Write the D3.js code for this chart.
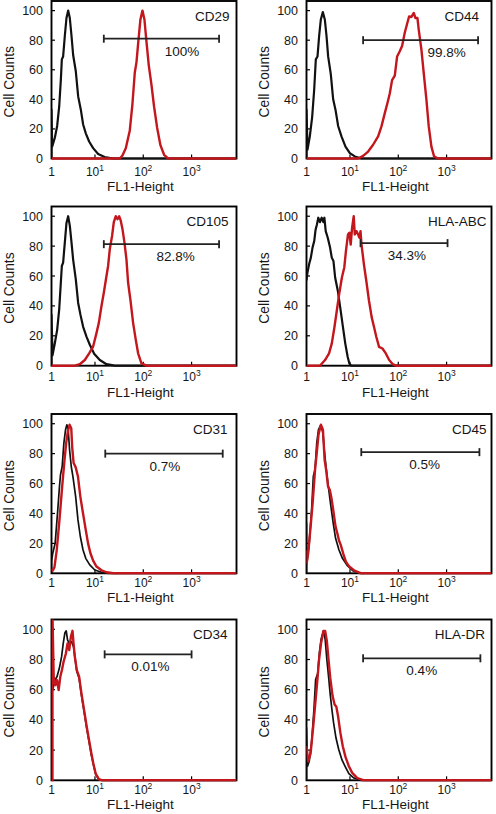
<!DOCTYPE html>
<html><head><meta charset="utf-8">
<script src="https://cdn.jsdelivr.net/npm/d3@7"></script>
<style>
body{margin:0;background:#fff}
svg{display:block}
text{font-family:"Liberation Sans",Arial,sans-serif;fill:#161616}
</style>
</head><body><svg id="c" width="496" height="814"></svg>
<script>
// ---------------- DATA ----------------
// x values are log10(FL1-Height), y values are cell counts (normalised to 100)
const markers  = ["CD29","CD44","CD105","HLA-ABC","CD31","CD45","CD34","HLA-DR"];
const percents = ["100%","99.8%","82.8%","34.3%","0.7%","0.5%","0.01%","0.4%"];

// gate (marker bar): start / end in log10(FL1), height in counts, label centre in log10(FL1)
const gateStart = [1.183, 1.272, 1.183, 1.218, 1.213, 1.234, 1.200, 1.272];
const gateEnd   = [3.569, 3.652, 3.569, 3.020, 3.645, 3.680, 3.000, 3.700];
const gateCount = [81, 80, 81.3, 82, 80, 81, 83.4, 80.8];
const gateLabelX= [2.80, 3.00, 2.672, 2.176, 2.446, 2.546, 2.145, 2.486];

const yTicks = [0, 20, 40, 60, 80, 100];
const xTickExp = [0, 1, 2, 3];
const xTickLabels = ["1", "10", "10", "10"];
const xTickSup = ["", "1", "2", "3"];

const cd29Control = [[0.1,0],[0.1,33],[0.114,8],[0.169,14],[0.217,22],[0.259,35],[0.293,53],[0.314,67],[0.341,69],[0.376,83],[0.41,95],[0.445,100],[0.479,95],[0.514,83],[0.548,70],[0.603,59],[0.652,42],[0.707,33],[0.755,23],[0.81,17],[0.879,11.5],[0.962,7],[1.066,3],[1.2,1],[1.38,0],[3.93,0]];
const cd29Stained = [[0.1,0],[1.514,0],[1.569,2],[1.638,7],[1.721,19],[1.776,37],[1.824,58],[1.859,65],[1.9,80],[1.941,94],[1.983,100],[2.024,94],[2.066,79],[2.114,63],[2.169,50],[2.224,35],[2.286,21],[2.355,9],[2.431,2.5],[2.514,0],[3.93,0]];

const cd44Control = [[0.1,0],[0.1,33],[0.121,6],[0.169,15],[0.217,28],[0.259,46.5],[0.293,67],[0.328,69],[0.362,83],[0.397,94],[0.438,99],[0.479,94],[0.514,83],[0.548,69],[0.603,57],[0.652,40],[0.7,33],[0.755,22],[0.824,15],[0.907,8],[0.997,3.6],[1.1,1.4],[1.238,0],[3.93,0]];
const cd44Stained = [[0.1,0],[1.169,0],[1.272,1.8],[1.376,4.7],[1.479,9.3],[1.583,15],[1.652,21.7],[1.721,30.7],[1.776,37.5],[1.824,44],[1.872,53],[1.928,56],[1.976,69],[2.031,72.5],[2.079,76],[2.134,85],[2.19,92],[2.224,96],[2.272,95.7],[2.321,98.4],[2.355,95],[2.397,95],[2.424,87],[2.479,73.6],[2.534,55.5],[2.583,39.7],[2.631,21.7],[2.686,8],[2.741,1.4],[2.824,0],[3.93,0]];

const cd105Control = [[0.1,0],[0.1,34],[0.121,7],[0.169,15],[0.217,24],[0.259,37.5],[0.293,55.5],[0.314,66.7],[0.341,69],[0.376,82.5],[0.41,95.5],[0.445,100],[0.479,93.7],[0.514,82.5],[0.548,71],[0.603,57.7],[0.652,42],[0.7,34],[0.755,26],[0.824,19.5],[0.893,14],[0.983,8],[1.1,3.8],[1.238,1],[1.41,0],[3.93,0]];
const cd105Stained = [[0.1,0],[0.583,0],[0.686,1],[0.79,3.8],[0.879,8.3],[0.962,12.8],[1.031,21.8],[1.079,28.5],[1.134,39.8],[1.183,48.8],[1.238,60],[1.272,66.7],[1.307,78],[1.355,87],[1.39,96],[1.431,100],[1.466,98],[1.5,100],[1.534,97],[1.569,91.5],[1.61,82.5],[1.652,71],[1.686,55.5],[1.734,44],[1.79,28.5],[1.845,17.3],[1.893,8.3],[1.962,1.6],[2.066,0],[3.93,0]];

const hlaAbcControl = [[0.1,57],[0.12,62.4],[0.155,68],[0.19,72.3],[0.225,79],[0.26,83.4],[0.288,91],[0.316,94.5],[0.344,99],[0.379,96],[0.414,99],[0.449,96],[0.47,99],[0.498,90],[0.54,85.6],[0.588,79],[0.623,72.3],[0.658,70],[0.693,59],[0.749,50],[0.798,39],[0.854,26],[0.903,14.8],[0.952,6],[0.987,1.5],[1.029,0],[3.93,0]];
const hlaAbcStained = [[0.1,0],[0.379,0],[0.484,3.8],[0.567,8.2],[0.623,14.8],[0.679,25.9],[0.728,36.9],[0.777,48],[0.833,59],[0.882,65.7],[0.917,76.8],[0.959,87.8],[0.987,89],[1.015,81],[1.043,92],[1.078,100],[1.099,87.8],[1.134,90],[1.169,87.8],[1.197,85.6],[1.218,90],[1.239,81],[1.288,68],[1.337,57],[1.393,43.6],[1.449,32.5],[1.498,25.9],[1.546,19.2],[1.602,12.6],[1.672,11.5],[1.742,8.2],[1.812,3.8],[1.882,1.1],[1.952,0],[3.93,0]];

const cd31Control = [[0.1,0],[0.1,8],[0.126,13.4],[0.175,20],[0.23,42.4],[0.265,58],[0.286,65.8],[0.321,71.4],[0.356,87],[0.391,96],[0.418,99.3],[0.446,96],[0.474,82.6],[0.509,71.4],[0.544,64.7],[0.6,51.3],[0.648,35.7],[0.697,24.6],[0.753,15.6],[0.809,10],[0.892,5.6],[0.997,2.2],[1.136,0.7],[1.276,0],[3.93,0]];
const cd31Stained = [[0.1,3],[0.126,1.8],[0.161,4],[0.209,15.6],[0.265,35.7],[0.321,58],[0.37,76],[0.404,87],[0.439,95],[0.474,99.3],[0.509,97],[0.53,83.7],[0.558,73.7],[0.6,71],[0.648,64.7],[0.697,51.3],[0.753,40],[0.809,29],[0.857,20],[0.906,13.4],[0.962,8.5],[1.032,4.5],[1.136,2],[1.241,0.7],[1.38,0],[3.93,0]];

const cd45Control = [[0.1,0],[0.1,33.5],[0.103,6],[0.156,20],[0.206,42.4],[0.241,64.7],[0.277,69.6],[0.312,87],[0.348,96],[0.398,99.3],[0.44,93.7],[0.468,82.6],[0.504,71.4],[0.539,61.4],[0.596,46.9],[0.653,33.5],[0.702,23.4],[0.773,15.6],[0.844,10],[0.951,4.9],[1.057,1.8],[1.199,0],[3.93,0]];
const cd45Stained = [[0.1,15.6],[0.105,7],[0.135,13.4],[0.185,31.2],[0.227,46.9],[0.277,69.2],[0.312,80.4],[0.348,92.6],[0.398,99.3],[0.44,96],[0.475,75.9],[0.511,68],[0.546,58],[0.582,55.8],[0.617,50.2],[0.653,42.4],[0.702,31.2],[0.738,26.8],[0.773,21.9],[0.809,19],[0.859,13.4],[0.915,7.8],[0.986,4.5],[1.093,1.8],[1.234,0],[3.93,0]];

const cd34Control = [[0.1,57.5],[0.131,60.8],[0.172,66.4],[0.213,68.6],[0.261,74],[0.309,81.9],[0.343,90.7],[0.378,97.8],[0.405,99],[0.432,93],[0.467,90.7],[0.515,91.8],[0.556,88.5],[0.583,81.9],[0.624,72],[0.672,67.5],[0.72,56.4],[0.775,45.4],[0.83,34.3],[0.878,25.4],[0.926,16.6],[0.967,10.6],[1.015,4],[1.083,0.4],[1.152,0],[3.93,0]];
const cd34Stained = [[0.1,0],[0.12,0],[0.12,110],[0.145,68.6],[0.179,63],[0.213,66.4],[0.248,59.7],[0.282,68.6],[0.316,73],[0.35,78.5],[0.398,84],[0.432,90.7],[0.467,86.3],[0.501,95],[0.535,99],[0.556,90.7],[0.583,81.9],[0.624,73],[0.672,68.6],[0.72,57.5],[0.775,46.5],[0.83,35.4],[0.878,26.5],[0.926,17.7],[0.967,11],[1.015,4.4],[1.083,0.7],[1.152,0],[3.93,0]];

const hlaDrControl = [[0.1,0],[0.1,34.7],[0.121,9.3],[0.156,12.6],[0.205,24.8],[0.254,46.9],[0.289,66.8],[0.332,70.8],[0.367,84.5],[0.402,93.4],[0.451,98.9],[0.486,93.4],[0.521,80],[0.556,69],[0.591,56.9],[0.626,46.9],[0.661,38],[0.711,28],[0.767,20.4],[0.837,13.3],[0.907,8.8],[0.977,4.4],[1.082,1.5],[1.223,0],[3.93,0]];
const hlaDrStained = [[0.1,22.6],[0.135,12.6],[0.184,17.7],[0.24,35.8],[0.289,53.5],[0.332,69],[0.36,80],[0.402,91],[0.451,98.9],[0.486,98.9],[0.521,92.3],[0.556,80],[0.591,68],[0.64,55.8],[0.682,50.2],[0.718,48.7],[0.753,42.5],[0.802,31.4],[0.851,22.6],[0.907,15.5],[0.977,9.3],[1.047,4.9],[1.153,1.5],[1.293,0],[3.93,0]];

const controlCurves = [cd29Control, cd44Control, cd105Control, hlaAbcControl, cd31Control, cd45Control, cd34Control, hlaDrControl];
const stainedCurves = [cd29Stained, cd44Stained, cd105Stained, hlaAbcStained, cd31Stained, cd45Stained, cd34Stained, hlaDrStained];

// ---------------- LAYOUT ----------------
const colLeft = [51.5, 306.5];
const plotW = 185;
const rowTop = [1, 206.5, 414, 619.5];
const rowBottom = [158.5, 365.7, 573.3, 780.3];
const tickLabelOffset = [17, 15.5, 13.5, 13.5];
const titleOffset = [32, 31.5, 29, 28.5];
const labelInset = [7, 12.5, 8, 5, 9, 5, 9, 6.5];
const logMin = 0.1, logMax = 3.93, yMax = 106.5;

const RED = "#c3161d";
const svg = d3.select("#c");

markers.forEach((name, i) => {
  const col = i % 2, row = Math.floor(i / 2);
  const H = rowBottom[row] - rowTop[row];
  const g = svg.append("g").attr("transform", `translate(${colLeft[col]},${rowTop[row]})`);
  const x = d3.scaleLog().domain([10 ** logMin, 10 ** logMax]).range([0, plotW]);
  const y = d3.scaleLinear().domain([0, yMax]).range([H, 0]);

  // frame
  g.append("rect").attr("x", 0).attr("y", 0).attr("width", plotW).attr("height", H)
    .attr("fill", "none").attr("stroke", "#000").attr("stroke-width", 1.9);

  // y ticks (inside) and labels
  yTicks.forEach(t => {
    if (t > 0) g.append("line").attr("x1", 0).attr("x2", 3.5).attr("y1", y(t)).attr("y2", y(t))
      .attr("stroke", "#000").attr("stroke-width", 1.2);
    g.append("text").attr("x", -8.5).attr("y", y(t)).attr("dy", "0.36em")
      .attr("text-anchor", "end").style("font-size", "12.5px").text(t);
  });

  // x ticks (inside) and labels
  xTickExp.forEach((e, k) => {
    const v = Math.max(10 ** e, 10 ** logMin);
    const px = x(v);
    if (e > 0) g.append("line").attr("x1", px).attr("x2", px).attr("y1", H).attr("y2", H - 4)
      .attr("stroke", "#000").attr("stroke-width", 1.2);
    const t = g.append("text").attr("x", px).attr("y", H + tickLabelOffset[row])
      .attr("text-anchor", "middle").style("font-size", "12px");
    t.append("tspan").text(xTickLabels[k]);
    if (xTickSup[k]) t.append("tspan").attr("dy", -5).style("font-size", "8.5px").text(xTickSup[k]);
  });

  // axis titles
  g.append("text").attr("x", plotW * 0.48).attr("y", H + titleOffset[row])
    .attr("text-anchor", "middle").style("font-size", "13.5px").text("FL1-Height");
  g.append("text").attr("transform", `translate(-42,${H / 2 + 2}) rotate(-90)`)
    .attr("text-anchor", "middle").attr("dy", "0.35em").style("font-size", "13.8px").text("Cell Counts");

  // curves
  const clipId = "clip" + i;
  g.append("clipPath").attr("id", clipId).append("rect")
    .attr("x", 0).attr("y", 0).attr("width", plotW).attr("height", H + 1.5);
  const line = d3.line().x(d => x(10 ** d[0])).y(d => y(d[1]));
  const cg = g.append("g").attr("clip-path", `url(#${clipId})`);
  cg.append("path").datum(controlCurves[i]).attr("d", line)
    .attr("fill", "none").attr("stroke", "#111").attr("stroke-width", row >= 2 ? 1.7 : 2.2).attr("stroke-linejoin", "round");
  cg.append("path").datum(stainedCurves[i]).attr("d", line)
    .attr("fill", "none").attr("stroke", RED).attr("stroke-width", 2.4).attr("stroke-linejoin", "round");

  // gate bar
  const gy = y(gateCount[i]);
  const gx1 = x(10 ** gateStart[i]), gx2 = x(10 ** gateEnd[i]);
  g.append("line").attr("x1", gx1).attr("x2", gx2).attr("y1", gy).attr("y2", gy)
    .attr("stroke", "#222").attr("stroke-width", 1.8);
  [gx1, gx2].forEach(px => g.append("line").attr("x1", px).attr("x2", px)
    .attr("y1", gy - 4).attr("y2", gy + 4).attr("stroke", "#222").attr("stroke-width", 1.8));
  g.append("text").attr("x", x(10 ** gateLabelX[i])).attr("y", gy + 17)
    .attr("text-anchor", "middle").style("font-size", "13.5px").text(percents[i]);

  // marker name
  g.append("text").attr("x", plotW - labelInset[i]).attr("y", 19.5)
    .attr("text-anchor", "end").style("font-size", "13.5px").text(name);
});
</script>
</body></html>
